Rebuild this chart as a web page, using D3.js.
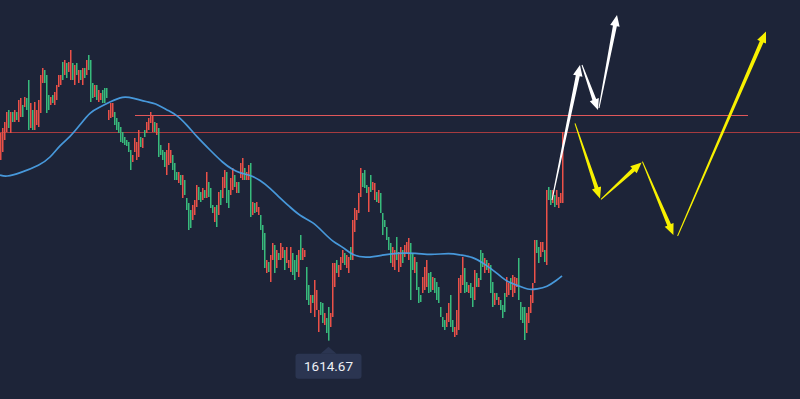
<!DOCTYPE html>
<html><head><meta charset="utf-8">
<script src="https://cdn.jsdelivr.net/npm/d3@7"></script>
<style>html,body{margin:0;padding:0;background:#1d2438;overflow:hidden}</style>
</head><body><svg id="c" width="800" height="399"></svg>
<script>
// ---- DATA ----
const opens = [
1705,1709,1715,1719,1730,1718.5,1729,1724,1729,1724,
1726.5,1732.5,1731.5,1736,1745,1721,1730,1720,1722.5,1721.5,
1728.5,1743.5,1750,1747.5,1737.5,1732.5,1737.5,1732.5,1735,1741.5,
1742.5,1754,1747.5,1753.5,1749,1745,1753.5,1742.5,1753.5,1743.5,
1750,1742.5,1751,1747.5,1757.5,1755,1743.5,1736.5,1742.5,1734,
1735,1740,1741,1741,1725,1726,1726.5,1729,1726,1724,
1721.5,1719,1716.5,1715,1714,1710,1704,1709,1705,1706.5,
1716.5,1711,1720,1718.5,1720,1723.5,1719,1724,1717.5,1721,
1712.5,1710,1709,1697.5,1702.5,1703.5,1707.5,1703.5,1699,1693.5,
1697.5,1686,1695,1686,1683.5,1680,1675,1677.5,1681.5,1691.5,
1689,1685,1690,1686,1694,1691,1682.5,1674,1682.5,1677.5,
1690,1686,1691,1699,1690,1687.5,1690,1697.5,1688.5,1694,
1696,1695,1701,1695,1695,1703.5,1677.5,1683.5,1679,1677.5,
1677.5,1672.5,1668.5,1648.5,1654,1644,1655,1662.5,1651,1658.5,
1655,1656,1660,1653.5,1651,1649,1658.5,1655,1657.5,1646.5,
1667.5,1655,1656.5,1651.5,1642.5,1628.5,1637.5,1626.5,1630,1619,
1634,1633.5,1622.5,1626,1631.5,1621.5,1626.5,1641.5,1655,1646.5,
1650,1653.5,1658.5,1651,1648.5,1661.5,1655,1669,1675,1678.5,
1686.5,1698.5,1700,1692.5,1679,1697.5,1690,1685,1689,1683.5,
1688.5,1678.5,1675,1671.5,1666.5,1663.5,1651.5,1650,1666.5,1649,
1651.5,1660,1656.5,1658.5,1655,1663.5,1658.5,1648.5,1654,1641.5,
1637.5,1638.5,1640,1641.5,1648.5,1649,1640,1646,1644,1641.5,
1631.5,1626.5,1625,1621.5,1624,1637.5,1625,1616.5,1617.5,1620,
1638.5,1642.5,1651,1644,1638.5,1643.5,1641.5,1635,1648.5,1641.5,
1660,1658.5,1648.5,1655,1648.5,1652.5,1644,1632.5,1638.5,1632.5,
1635,1632.5,1638.5,1636.5,1637.5,1646,1636.5,1638.5,1641.5,1656,
1634,1631.5,1631.5,1618.5,1623.5,1628.5,1633.5,1643.5,1665,1661.5,
1656.5,1659,1660,1652.5,1691.5,1690,1683.5,1687.5,1682.5,1681,
1683.5,1683.5];
const closes = [
1718.5,1721,1724,1729,1721,1729,1724,1730,1725,1735,
1736,1726.5,1736.5,1730,1720,1733.5,1720,1734,1730,1735,
1747.5,1751,1743.5,1728.5,1730,1736.5,1733.5,1739,1742.5,1747.5,
1747.5,1745,1755,1746,1754,1760,1745,1752.5,1747.5,1750,
1745,1751,1746,1755,1750,1734,1736,1742.5,1735,1740,
1738.5,1733.5,1733.5,1736,1730,1733.5,1733.5,1722.5,1720,1718.5,
1714,1713.5,1712.5,1712,1709,1700,1707.5,1716,1714,1720,
1711.5,1716,1716.5,1724,1726,1729,1727.5,1719,1723.5,1706.5,
1707.5,1705,1701.5,1710,1713.5,1710,1700,1695,1695,1699,
1692.5,1697.5,1687.5,1680,1670,1671,1682.5,1685,1692.5,1685,
1684,1691,1686,1699,1686.5,1681,1678.5,1681.5,1671.5,1689,
1682.5,1696.5,1700,1683.5,1681,1696,1701,1691.5,1694,1688.5,
1703.5,1706,1695,1699,1702.5,1676.5,1684,1678.5,1684,1681.5,
1670,1660,1651,1655,1649,1657.5,1663.5,1648.5,1660,1655,
1663.5,1661.5,1650,1661.5,1655,1661.5,1647.5,1645,1649,1660,
1655,1661,1660,1635,1632.5,1637.5,1633.5,1645,1640,1630,
1627.5,1623.5,1628.5,1618.5,1614.67,1628.5,1653.5,1653.5,1648.5,1652.5,
1656.5,1660,1652.5,1657.5,1656.5,1655,1675,1681,1680,1688.5,
1701,1691.5,1691,1688.5,1691.5,1689,1694,1693.5,1684,1690,
1678.5,1667.5,1671.5,1665,1660,1653.5,1661.5,1660,1655,1659,
1661.5,1653.5,1662.5,1664,1666,1635,1650,1656.5,1640,1633.5,
1634,1646.5,1651.5,1655,1638.5,1639,1646.5,1638.5,1635,1633.5,
1626.5,1621.5,1620,1628.5,1633.5,1621.5,1619,1621.5,1630,1646,
1647.5,1656.5,1638.5,1639,1642.5,1636,1631.5,1650,1641.5,1646,
1645,1651.5,1656,1650,1653.5,1638.5,1631.5,1638.5,1635,1636.5,
1630,1626,1629,1646.5,1643.5,1640,1647.5,1646.5,1646,1635,
1625,1623.5,1615,1628.5,1631.5,1637.5,1643.5,1665,1658.5,1653.5,
1664,1664,1654,1690,1685,1682.5,1690,1681.5,1690,1686.5,
1688.5,1719];
const maIndex = [0,3,10,20,25,30,35,40,45,50,55,61.5,66.5,73.5,77.5,83.5,88.5,93.5,98.5,105,111.5,116.5,120,125,130,135,140,145,150,156.5,161.5,166.5,171.5,176.5,183.5,191.5,197.5,208.5,215,225,230,236.5,241.5,248.5,253.5,258.5,264,268.5,273.5,278.5,281];
const maValues = [1697.5,1696.5,1698.5,1702.5,1706,1712.5,1716.5,1722.5,1729,1731.5,1734,1737,1736,1734,1733.5,1730,1727.5,1722.5,1716.5,1710,1703.5,1700,1698.5,1697.5,1695,1691,1686,1681.5,1677,1674,1669,1664,1661.5,1657,1656,1657.5,1658.5,1658.5,1657.5,1658.5,1657.5,1656.5,1653.5,1648.5,1644,1642.5,1640,1640.5,1641.5,1645,1647];
const resistanceLevel = 1727.5;   // short upper line
const resistanceRange = [67.5, 374];
const supportLevel = 1719;        // full-width line
const whiteArrows = [
  [[276,1685],[290,1752.5]],
  [[291,1752.5],[299,1730]],
  [[299.5,1731],[308.5,1777.5]]
];
const yellowArrows = [
  [[287.5,1723.3],[300,1685.8]],
  [[300.5,1685.3],[320.8,1703.8]],
  [[321.2,1704.2],[336.7,1667.5]],
  [[338.8,1667],[383,1769.2]]
];

// ---- CHART ----
const W = 800, H = 399;
const svg = d3.select('#c');
const x = d3.scaleLinear().domain([0, 400]).range([0, W]);
const y = d3.scaleLinear().domain([1585.5, 1785]).range([H, 0]);
const UP = '#ec5148', DOWN = '#38bb7c';

svg.append('rect').attr('width', W).attr('height', H).attr('fill', '#1d2438');

// support line (full width)
svg.append('line').attr('x1', 0).attr('x2', W)
  .attr('y1', Math.round(y(supportLevel)) + 0.5).attr('y2', Math.round(y(supportLevel)) + 0.5)
  .attr('stroke', '#a63b3f').attr('stroke-width', 1);

// candles
const cg = svg.append('g');
cg.selectAll('rect').data(opens.map((o, i) => ({i, o, c: closes[i]})))
  .enter().append('rect')
  .attr('x', d => x(d.i))
  .attr('width', 1.5)
  .attr('y', d => y(Math.max(d.o, d.c)))
  .attr('height', d => Math.max(1, Math.abs(y(d.o) - y(d.c))))
  .attr('fill', d => d.c >= d.o ? UP : DOWN);

// resistance line (short)
svg.append('line').attr('x1', x(resistanceRange[0])).attr('x2', x(resistanceRange[1]))
  .attr('y1', Math.round(y(resistanceLevel)) + 0.5).attr('y2', Math.round(y(resistanceLevel)) + 0.5)
  .attr('stroke', '#e0575a').attr('stroke-width', 1);

// moving average
svg.append('path').datum(maIndex.map((m, i) => [m, maValues[i]]))
  .attr('d', d3.line().x(d => x(d[0])).y(d => y(d[1])).curve(d3.curveBasis))
  .attr('fill', 'none').attr('stroke', '#4a9fe4').attr('stroke-width', 1.7).attr('opacity', 0.95);

// arrows
function arrowPath(p0, p1) {
  const x0 = x(p0[0]), y0 = y(p0[1]), x1 = x(p1[0]), y1 = y(p1[1]);
  const dx = x1 - x0, dy = y1 - y0, L = Math.hypot(dx, dy);
  const ux = dx / L, uy = dy / L, nx = -uy, ny = ux;
  const Hh = 11, hw = 4.8, s0 = 0.5, s1 = 2;
  const bx = x1 - ux * Hh, by = y1 - uy * Hh;
  const pts = [
    [x0 + nx * s0, y0 + ny * s0], [bx + nx * s1, by + ny * s1], [bx + nx * hw, by + ny * hw],
    [x1, y1],
    [bx - nx * hw, by - ny * hw], [bx - nx * s1, by - ny * s1], [x0 - nx * s0, y0 - ny * s0]
  ];
  return 'M' + pts.map(p => p[0].toFixed(2) + ',' + p[1].toFixed(2)).join('L') + 'Z';
}
svg.append('g').selectAll('path').data(whiteArrows).enter().append('path')
  .attr('d', d => arrowPath(d[0], d[1])).attr('fill', '#ffffff');
svg.append('g').selectAll('path').data(yellowArrows).enter().append('path')
  .attr('d', d => arrowPath(d[0], d[1])).attr('fill', '#f7f000');

// low label
const lows = opens.map((o, i) => Math.min(o, closes[i]));
const minVal = d3.min(lows);
const minIdx = lows.indexOf(minVal);
const lx = x(minIdx) + 0.5, ly = y(minVal);
const lg = svg.append('g');
lg.append('path').attr('d', `M${lx},${ly + 6}L${lx + 8},${ly + 13}L${lx - 8},${ly + 13}Z`).attr('fill', '#2b3551');
lg.append('rect').attr('x', lx - 33).attr('y', ly + 13).attr('width', 66).attr('height', 25).attr('rx', 3).attr('fill', '#2b3551');
lg.append('text').attr('x', lx).attr('y', ly + 30.5).attr('text-anchor', 'middle')
  .attr('font-family', 'Roboto, "Noto Sans", sans-serif').attr('font-size', 13.5).attr('fill', '#eef0f5')
  .text(d3.format('.2f')(minVal));
</script></body></html>
